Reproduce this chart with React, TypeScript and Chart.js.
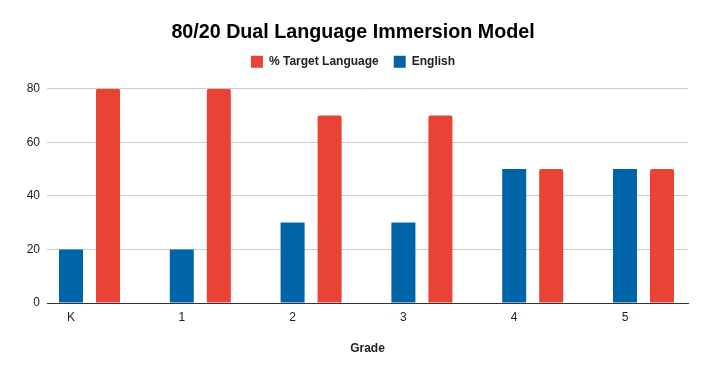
import React, { useEffect, useRef } from "react";
import { Chart, registerables } from "chart.js";

Chart.register(...registerables);

const grades = ["K", "1", "2", "3", "4", "5"];
const englishValues = [20, 20, 30, 30, 50, 50];
const targetValues = [80, 80, 70, 70, 50, 50];
const yTicks = [0, 20, 40, 60, 80];

const FONT = "'Liberation Sans', Arial, sans-serif";

const legendSpacer = {
  id: "legendSpacer",
  afterInit(chart: any) {
    const legend = chart.legend;
    if (!legend) return;
    const orig = legend.fit.bind(legend);
    legend.fit = function () {
      orig();
      this.height += 11;
    };
  },
};

export default function App() {
  const ref = useRef<HTMLCanvasElement | null>(null);

  useEffect(() => {
    if (!ref.current) return;
    const chart = new Chart(ref.current, {
      type: "bar",
      plugins: [legendSpacer],
      data: {
        datasets: [
          {
            label: "English",
            data: englishValues.map((v, i) => ({ x: i, y: v })),
            backgroundColor: "#0065a8",
            categoryPercentage: 0.668,
            barPercentage: 0.649,
          },
          {
            label: "% Target Language",
            data: targetValues.map((v, i) => ({ x: i, y: v })),
            backgroundColor: "#ea4335",
            borderRadius: { topLeft: 2, topRight: 2, bottomLeft: 0, bottomRight: 0 },
            borderSkipped: "bottom",
            categoryPercentage: 0.668,
            barPercentage: 0.649,
          },
        ],
      },
      options: {
        animation: false,
        responsive: false,
        maintainAspectRatio: false,
        layout: { padding: { left: 0, right: 0, top: 0, bottom: 0 } },
        plugins: {
          title: {
            display: true,
            text: "80/20 Dual Language Immersion Model",
            color: "#000",
            font: { family: FONT, size: 19.7, weight: "bold" },
            padding: { top: 21, bottom: -4 },
          },
          legend: {
            reverse: true,
            labels: {
              color: "#222",
              font: { family: FONT, size: 12, weight: "bold" },
              boxWidth: 12,
              boxHeight: 12,
              padding: 15,
            },
          },
          tooltip: { enabled: false },
        },
        scales: {
          x: {
            type: "linear",
            min: -0.3836,
            max: 5.4016,
            offset: false,
            afterFit: (s: any) => {
              s.height = 71;
            },
            grid: { display: false, drawTicks: false },
            border: { display: true, color: "#333", width: 1 },
            ticks: {
              stepSize: 1,
              includeBounds: false,
              autoSkip: false,
              maxRotation: 0,
              labelOffset: -18.5,
              padding: 7,
              color: "#222",
              font: { family: FONT, size: 12 },
              callback: (v: any) => {
                const i = Math.round(Number(v));
                return Number.isInteger(Number(v)) && grades[i] !== undefined ? grades[i] : "";
              },
            },
            title: {
              display: true,
              text: "Grade",
              color: "#222",
              font: { family: FONT, size: 12, weight: "bold" },
              padding: { top: 16, bottom: 18 },
            },
          },
          y: {
            min: 0,
            max: 80,
            afterFit: (s: any) => {
              s.width = 47;
            },
            afterBuildTicks: (s: any) => {
              s.ticks = yTicks.map((v) => ({ value: v }));
            },
            border: { display: false },
            grid: {
              drawTicks: false,
              color: (ctx: any) => (ctx.tick && ctx.tick.value === 0 ? "#333" : "#cccccc"),
            },
            ticks: {
              padding: 7,
              color: "#222",
              font: { family: FONT, size: 12 },
            },
          },
          yRight: {
            type: "linear",
            position: "right",
            display: true,
            min: 0,
            max: 80,
            afterFit: (s: any) => {
              s.width = 18;
            },
            border: { display: false },
            grid: { display: false, drawTicks: false },
            ticks: { display: false },
          },
        },
      },
    });
    return () => chart.destroy();
  }, []);

  return (
    <div style={{ position: "fixed", left: 0, top: 0, width: 706, height: 374, background: "#fff" }}>
      <canvas ref={ref} width={706} height={374} style={{ width: 706, height: 374, display: "block" }} />
    </div>
  );
}
